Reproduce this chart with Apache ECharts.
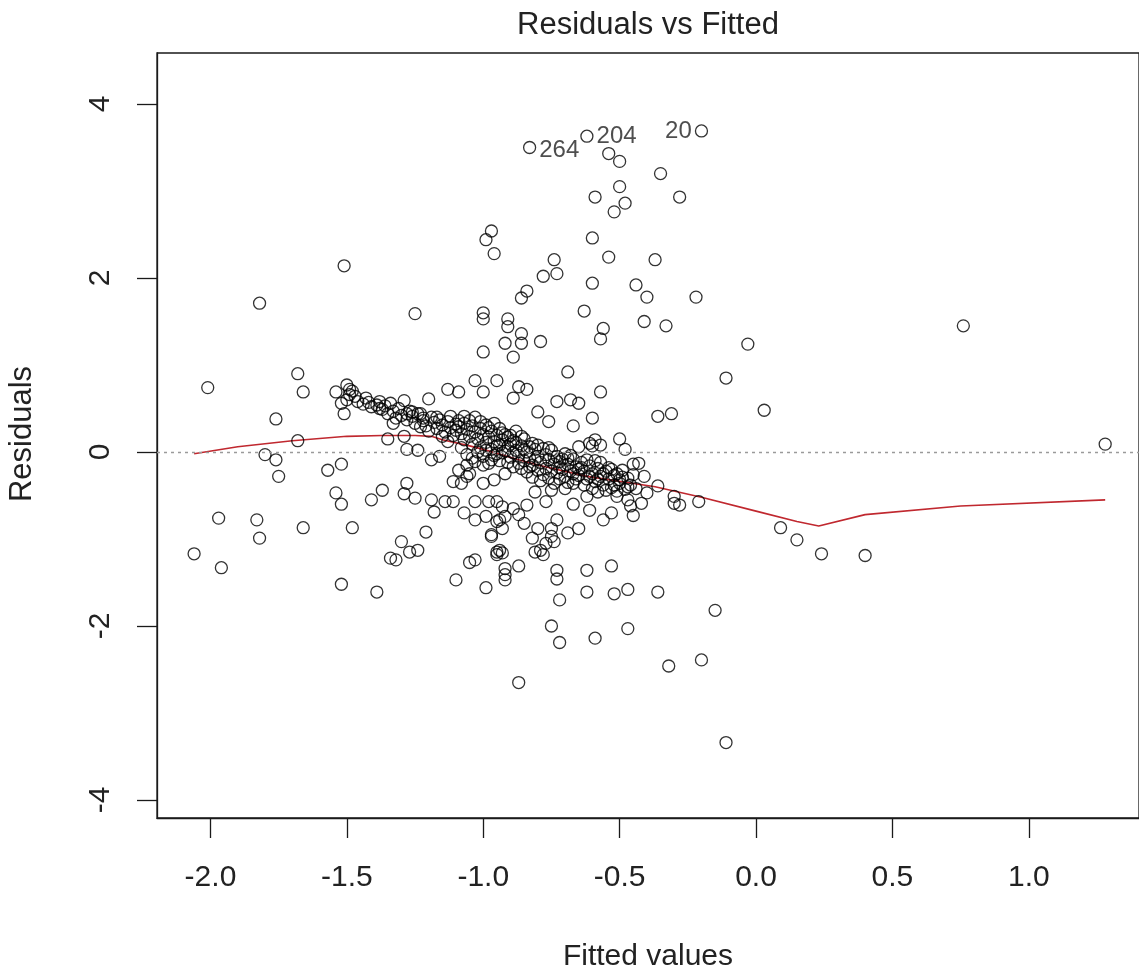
<!DOCTYPE html>
<html>
<head>
<meta charset="utf-8">
<title>Residuals vs Fitted</title>
<script src="https://cdn.jsdelivr.net/npm/echarts@6/dist/echarts.min.js"></script>
<style>
  html, body { margin: 0; padding: 0; background: #ffffff; }
  #chart { width: 1139px; height: 976px; }
</style>
</head>
<body>
<div id="chart"></div>
<script>
// Axis ticks
const xTickValues = [-2.0, -1.5, -1.0, -0.5, 0.0, 0.5, 1.0];
const yTickValues = [-4, -2, 0, 2, 4];

// Observations flagged with their row number
const labelledNames = ['264', '204', '20'];
const labelledFitted = [-0.83, -0.62, -0.20];
const labelledResiduals = [3.50, 3.63, 3.69];
const labelledSide = ['right', 'right', 'left'];

// Scattered observations [fitted, residual]
const outerPoints = [
  [-0.54,3.43],[-0.50,3.34],[-0.50,3.05],[-0.59,2.93],[-0.48,2.86],[-0.52,2.76],[-0.97,2.54],[-0.99,2.44],[-0.96,2.28],[-0.60,2.46],
  [-0.54,2.24],[-0.74,2.21],[-0.73,2.05],[-0.78,2.02],[-0.60,1.94],[-0.44,1.92],[-0.40,1.78],[-0.41,1.50],[-0.84,1.85],[-0.86,1.77],
  [-0.63,1.62],[-0.56,1.42],[-0.57,1.30],[-1.00,1.60],[-1.00,1.53],[-0.91,1.53],[-0.91,1.44],[-0.86,1.36],[-0.86,1.25],[-0.92,1.25],
  [-0.89,1.09],[-0.79,1.27],[-1.00,1.15],[-2.01,0.74],[-1.82,1.71],[-1.51,2.14],[-1.25,1.59],[-1.68,0.90],[-1.66,0.69],[-1.76,0.38],
  [-1.68,0.13],[-1.54,0.69],[-1.50,0.77],[-1.48,0.70],[-1.49,0.66],[-1.47,0.64],[-1.50,0.60],[-1.49,0.72],[-1.51,0.44],[-1.52,0.56],
  [-1.43,0.62],[-1.38,0.58],[-1.38,0.50],[-1.34,0.56],[-1.35,0.44],[-1.33,0.33],[-1.29,0.59],[-1.28,0.44],[-1.28,0.37],[-1.20,0.61],
  [-1.24,0.44],[-1.22,0.39],[-1.35,0.15],[-1.29,0.18],[-1.28,0.03],[-1.24,0.02],[-1.13,0.72],[-1.09,0.69],[-1.03,0.82],[-1.00,0.69],
  [-0.95,0.82],[-0.87,0.75],[-0.84,0.72],[-0.89,0.62],[-0.69,0.92],[-0.57,0.69],[-0.73,0.58],[-0.68,0.60],[-0.65,0.56],[-0.80,0.46],
  [-0.76,0.35],[-0.60,0.39],[-0.67,0.30],[-0.50,0.15],[-0.48,0.03],[-0.59,0.14],[-0.57,0.08],[-0.65,0.06],[-0.35,3.20],[-0.28,2.93],
  [-0.37,2.21],[-0.22,1.78],[-0.33,1.45],[-0.03,1.24],[0.76,1.45],[-0.11,0.85],[0.03,0.48],[-0.36,0.41],[-0.31,0.44],[1.28,0.09],
  [-0.41,-0.28],[-0.43,-0.13],[-0.45,-0.14],[-0.61,0.10],[-0.60,0.07],
  [-0.36,-0.39],[-0.42,-0.59],[-0.30,-0.51],[-0.30,-0.59],[-0.28,-0.61],[-0.21,-0.57],[0.09,-0.87],[0.15,-1.01],[-0.45,-0.73],
  [-0.56,-0.78],[-0.53,-0.70],[-0.61,-0.67],[-0.65,-0.88],[-0.69,-0.93],[-0.67,-0.60],[-0.73,-0.78],[-0.75,-0.88],[-0.75,-0.97],[-0.77,-1.05],
  [-0.74,-1.03],[-0.80,-0.88],[-0.82,-0.99],[-0.79,-1.13],[-0.81,-1.15],[-0.78,-1.18],[-0.87,-0.72],[-0.84,-0.61],[-0.89,-0.65],[-0.92,-0.74],
  [-0.85,-0.82],[-0.97,-0.97],[-0.99,-0.74],[-0.94,-0.78],[-1.03,-0.78],[-1.03,-1.24],[-0.94,-1.13],[-0.93,-1.16],[-0.95,-1.18],[-0.92,-1.34],
  [-0.92,-1.41],[-0.87,-1.31],[-0.99,-1.56],[-0.73,-1.36],[-0.73,-1.46],[-0.72,-1.70],[-0.62,-1.36],[-0.53,-1.31],[-0.62,-1.61],[-0.52,-1.63],
  [-0.47,-1.58],[-0.36,-1.61],[-0.15,-1.82],[-1.05,-0.25],[-1.00,-0.36],[-0.96,-0.32],[-1.03,-0.57],[-0.98,-0.57],[-0.93,-0.63],[-0.81,-0.46],
  [-0.77,-0.57],[-0.75,-0.44],[-0.70,-0.42],[-0.67,-0.36],[-0.62,-0.51],[-0.58,-0.46],[-0.51,-0.51],[-0.47,-0.55],[-0.44,-0.42],[-0.51,-0.25],
  [-0.50,-0.32],
  [-1.80,-0.03],[-1.76,-0.09],[-1.75,-0.28],[-1.57,-0.21],[-1.52,-0.14],[-1.54,-0.47],[-1.52,-0.60],[-1.97,-0.76],[-1.83,-0.78],[-1.82,-0.99],
  [-2.06,-1.17],[-1.96,-1.33],[-1.66,-0.87],[-1.48,-0.87],[-1.52,-1.52],[-1.39,-1.61],[-1.41,-0.55],[-1.37,-0.44],[-1.28,-0.36],[-1.29,-0.48],
  [-1.25,-0.53],[-1.19,-0.55],[-1.18,-0.69],[-1.14,-0.57],[-1.11,-0.57],[-1.21,-0.92],[-1.30,-1.03],[-1.27,-1.15],[-1.24,-1.13],[-1.34,-1.22],
  [-1.32,-1.24],[-1.05,-1.27],[-1.10,-1.47],[-1.07,-0.70],[-1.19,-0.09],[-1.16,-0.05],[-1.09,-0.21],[-1.06,-0.15],[-1.06,-0.28],[-1.11,-0.34],
  [-1.08,-0.36],[-1.03,-0.11],[-1.00,-0.15],[-0.98,-0.13],[-0.92,-0.25],[-0.95,-0.57],[-0.95,-0.80],[-0.93,-0.88],[-0.97,-0.95],[-0.95,-1.15],
  [-0.92,-1.47],[-0.75,-2.00],[-0.72,-2.19],[-0.59,-2.14],[-0.47,-2.03],[-0.32,-2.46],[-0.20,-2.39],[-0.87,-2.65],[-0.11,-3.34],[0.24,-1.17],
  [0.40,-1.19],[-0.40,-0.47],[-0.46,-0.62]
];

// Crowded diagonal band of observations [fitted, residual]
const bandPoints = [
  [-1.46,0.58],[-1.44,0.55],[-1.42,0.57],[-1.41,0.52],[-1.39,0.54],[-1.37,0.49],[-1.36,0.53],[-1.33,0.47],[-1.31,0.50],[-1.30,0.42],[-1.32,0.39],
  [-1.27,0.47],[-1.26,0.41],[-1.25,0.33],[-1.23,0.44],[-1.22,0.36],[-1.21,0.30],[-1.19,0.40],[-1.18,0.34],[-1.17,0.27],[-1.16,0.37],
  [-1.15,0.31],[-1.14,0.23],[-1.13,0.35],[-1.12,0.28],[-1.11,0.19],[-1.10,0.32],[-1.10,0.25],
  [-1.09,0.29],[-1.08,0.21],[-1.07,0.33],[-1.07,0.14],[-1.06,0.26],[-1.05,0.18],[-1.04,0.30],[-1.04,0.09],[-1.03,0.23],[-1.02,0.15],
  [-1.01,0.27],[-1.01,0.05],[-1.00,0.20],[-0.99,0.11],[-0.99,0.31],[-0.98,0.17],[-0.97,0.03],[-0.97,0.24],[-0.96,0.12],[-0.95,0.19],[-0.95,-0.02],
  [-0.94,0.08],[-0.93,0.22],[-0.93,0.14],[-0.92,0.01],[-0.91,0.17],[-0.90,0.09],[-0.90,-0.06],[-0.89,0.13],[-0.88,0.02],[-0.88,0.24],
  [-0.87,-0.04],[-0.86,0.07],[-0.85,-0.10],[-0.85,0.15],[-0.84,0.00],[-0.83,-0.07],[-0.82,0.10],[-0.82,-0.15],[-0.81,0.03],[-0.80,-0.05],
  [-0.79,-0.12],[-0.78,0.04],[-0.77,-0.03],[-0.77,-0.19],[-0.76,-0.09],[-0.75,0.02],[-0.74,-0.14],[-0.73,-0.24],[-0.73,-0.05],[-0.72,-0.11],
  [-0.71,-0.20],[-0.70,-0.02],[-0.70,-0.28],[-0.69,-0.14],[-0.68,-0.22],[-0.67,-0.08],[-0.66,-0.17],[-0.65,-0.27],[-0.64,-0.12],[-0.63,-0.22],[-0.62,-0.31],
  [-0.61,-0.16],[-0.60,-0.25],[-0.59,-0.34],[-0.58,-0.19],[-0.57,-0.28],[-0.56,-0.38],[-0.55,-0.22],[-0.54,-0.31],[-0.53,-0.41],[-0.52,-0.27],
  [-0.50,-0.36],[-0.49,-0.21],[-0.48,-0.43],[-0.47,-0.30],[-0.46,-0.38],[-0.45,-0.26],
  [-1.08,0.05],[-1.06,-0.03],[-1.05,0.36],[-1.04,-0.07],[-1.03,0.40],[-1.02,0.00],[-1.01,0.35],[-1.00,-0.05],[-0.99,0.02],[-0.98,0.28],
  [-0.97,-0.09],[-0.96,0.33],[-0.96,-0.04],[-0.95,0.07],[-0.94,-0.10],[-0.94,0.27],[-0.93,-0.01],[-0.92,0.20],[-0.91,-0.12],[-0.91,0.06],
  [-0.90,0.19],[-0.89,-0.17],[-0.89,-0.01],[-0.88,0.11],[-0.87,-0.13],[-0.86,-0.19],[-0.86,0.18],[-0.85,0.03],[-0.84,-0.23],[-0.83,0.06],
  [-0.83,-0.17],[-0.82,-0.29],[-0.81,-0.09],[-0.80,0.08],[-0.80,-0.21],[-0.79,-0.33],[-0.78,-0.26],[-0.76,-0.30],[-0.76,0.05],[-0.75,-0.22],
  [-0.74,-0.36],[-0.72,-0.31],[-0.71,-0.08],[-0.69,-0.35],[-0.68,-0.04],[-0.66,-0.31],[-0.65,-0.20],[-0.63,-0.38],[-0.62,-0.09],[-0.60,-0.42],
  [-0.58,-0.31],[-0.57,-0.12],[-0.55,-0.44],[-0.54,-0.18],[-0.52,-0.38],[-0.51,-0.45],[-0.49,-0.29],[-0.47,-0.40],[-1.13,0.12],[-1.15,0.18],
  [-1.17,0.40],[-1.20,0.24],[-1.23,0.29],[-1.26,0.46],[-1.12,0.41],[-1.09,0.36],[-1.07,0.41],
  [-0.74,-0.06],[-0.72,-0.18],[-0.69,-0.07],[-0.67,-0.25],[-0.64,-0.18],[-0.61,-0.28],[-0.59,-0.10],[-0.56,-0.25],[-0.53,-0.20]
];

// Smoothed trend of residuals against fitted values
const smoothFitted = [-2.06, -1.90, -1.70, -1.50, -1.37, -1.25, -1.19, -1.15, -1.05, -1.00, -0.88, -0.80, -0.62, -0.37, -0.20, 0.00, 0.15, 0.23, 0.40, 0.75, 1.28];
const smoothResidual = [-0.02, 0.06, 0.13, 0.18, 0.19, 0.19, 0.18, 0.14, 0.07, 0.03, -0.08, -0.15, -0.28, -0.40, -0.52, -0.68, -0.80, -0.85, -0.72, -0.62, -0.55];

const FONT = '"Liberation Sans", Arial, Helvetica, sans-serif';
const TEXT = '#222222';

const circleStyle = {
  color: 'rgba(0,0,0,0)',
  borderColor: '#000000',
  borderWidth: 1.3
};

const chart = echarts.init(document.getElementById('chart'), null, { renderer: 'canvas' });

chart.setOption({
  animation: false,
  backgroundColor: '#ffffff',
  grid: {
    left: 157, top: 53, right: -2, bottom: 158,
    show: true, borderColor: '#1a1a1a', borderWidth: 1.3,
    containLabel: false
  },
  xAxis: {
    type: 'value',
    min: -2.196, max: 1.404,
    splitLine: { show: false },
    axisLine: { show: true, onZero: false, lineStyle: { color: '#1a1a1a', width: 1.3 } },
    axisTick: { show: true, length: 20, lineStyle: { color: '#1a1a1a', width: 1.3 }, customValues: xTickValues },
    axisLabel: {
      show: true, margin: 45, fontSize: 30, fontFamily: FONT, color: TEXT,
      customValues: xTickValues,
      formatter: v => v.toFixed(1)
    }
  },
  yAxis: {
    type: 'value',
    min: -4.207, max: 4.586,
    splitLine: { show: false },
    axisLine: { show: true, onZero: false, lineStyle: { color: '#1a1a1a', width: 1.3 } },
    axisTick: { show: true, length: 20, lineStyle: { color: '#1a1a1a', width: 1.3 }, customValues: yTickValues },
    axisLabel: {
      show: true, margin: 41, rotate: 90, fontSize: 30, fontFamily: FONT, color: TEXT,
      customValues: yTickValues,
      formatter: v => String(v)
    }
  },
  graphic: [
    {
      type: 'text', x: 648, y: 25,
      style: { text: 'Residuals vs Fitted', fontSize: 31, fontFamily: FONT, fill: TEXT, textAlign: 'center', textVerticalAlign: 'middle' }
    },
    {
      type: 'text', x: 648, y: 957,
      style: { text: 'Fitted values', fontSize: 30, fontFamily: FONT, fill: TEXT, textAlign: 'center', textVerticalAlign: 'middle' }
    },
    {
      type: 'text', x: 22, y: 434, rotation: Math.PI / 2,
      style: { text: 'Residuals', fontSize: 31, fontFamily: FONT, fill: TEXT, textAlign: 'center', textVerticalAlign: 'middle' }
    }
  ],
  series: [
    {
      name: 'observations',
      type: 'scatter',
      symbol: 'circle',
      symbolSize: 12,
      itemStyle: circleStyle,
      emphasis: { disabled: true },
      silent: true,
      z: 3,
      data: outerPoints.concat(bandPoints),
      markLine: {
        silent: true,
        symbol: ['none', 'none'],
        label: { show: false },
        lineStyle: { color: '#9a9a9a', width: 1.3, type: [3, 4] },
        data: [{ yAxis: 0 }]
      }
    },
    {
      name: 'labelled',
      type: 'scatter',
      symbol: 'circle',
      symbolSize: 12,
      itemStyle: circleStyle,
      emphasis: { disabled: true },
      silent: true,
      z: 4,
      data: labelledNames.map((name, i) => ({
        name: name,
        value: [labelledFitted[i], labelledResiduals[i]],
        label: {
          show: true,
          position: labelledSide[i],
          distance: 3,
          offset: [0, name === '264' ? 3 : 0],
          formatter: '{b}',
          fontSize: 24,
          fontFamily: FONT,
          color: TEXT
        }
      }))
    },
    {
      name: 'smooth',
      type: 'line',
      data: smoothFitted.map((x, i) => [x, smoothResidual[i]]),
      showSymbol: false,
      symbol: 'none',
      smooth: false,
      silent: true,
      z: 2,
      lineStyle: { color: '#c0282f', width: 1.6 }
    }
  ]
});
</script>
</body>
</html>
